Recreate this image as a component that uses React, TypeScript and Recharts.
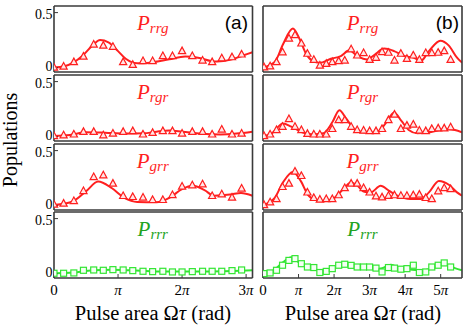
import { LineChart, Line, XAxis, YAxis } from 'recharts';

const SERIF = '"Liberation Serif", serif';
const RED = '#ff1f1f';
const GREEN = '#33e633';
const GREEN_TEXT = '#22a322';
const FRAME = '#3a3a3a';

// positions of the measured points, in units of pi
const xA = [0, 0.15, 0.31, 0.46, 0.62, 0.77, 0.92, 1.08, 1.23, 1.39, 1.54, 1.7, 1.85, 2.0, 2.16, 2.32, 2.47, 2.62, 2.78, 2.93];
const xB = [0.03, 0.2, 0.38, 0.55, 0.73, 0.9, 1.08, 1.25, 1.43, 1.6, 1.78, 1.95, 2.13, 2.3, 2.48, 2.65, 2.83, 3.0, 3.18, 3.35, 3.53, 3.7, 3.88, 4.05, 4.23, 4.4, 4.58, 4.75, 4.93, 5.1, 5.28];

// measured populations, column (a)
const rrgA = [0.0, 0.01, 0.05, 0.1, 0.21, 0.2, 0.19, 0.05, 0.025, 0.06, 0.06, 0.105, 0.105, 0.15, 0.105, 0.065, 0.05, 0.085, 0.095, 0.12];
const rgrA = [0.006, 0.012, 0.02, 0.043, 0.043, 0.012, 0.028, 0.043, 0.05, 0.02, 0.034, 0.05, 0.05, 0.028, 0.043, 0.043, 0.02, 0.064, 0.02, 0.028];
const grrA = [0.01, 0.018, 0.042, 0.133, 0.26, 0.276, 0.2, 0.088, 0.079, 0.073, 0.052, 0.052, 0.097, 0.173, 0.185, 0.194, 0.088, 0.103, 0.073, 0.155];
const rrrA = [0.003, 0.003, 0.006, 0.03, 0.033, 0.03, 0.036, 0.033, 0.027, 0.021, 0.018, 0.021, 0.015, 0.015, 0.018, 0.021, 0.021, 0.021, 0.027, 0.033];

// measured populations, column (b)
const rrgB = [0.003, 0.012, 0.05, 0.14, 0.265, 0.296, 0.22, 0.127, 0.071, 0.019, 0.034, 0.05, 0.059, 0.065, 0.167, 0.111, 0.133, 0.071, 0.09, 0.142, 0.136, 0.065, 0.127, 0.08, 0.111, 0.071, 0.133, 0.133, 0.136, 0.15, 0.071];
const rgrB = [0.005, 0.02, 0.06, 0.09, 0.16, 0.09, 0.06, 0.025, 0.02, 0.02, 0.02, 0.07, 0.15, 0.15, 0.09, 0.06, 0.055, 0.05, 0.05, 0.07, 0.15, 0.2, 0.07, 0.1, 0.11, 0.055, 0.05, 0.07, 0.075, 0.075, 0.085];
const grrB = [0.005, 0.03, 0.06, 0.17, 0.2, 0.31, 0.27, 0.12, 0.07, 0.055, 0.06, 0.06, 0.095, 0.16, 0.2, 0.2, 0.16, 0.12, 0.085, 0.075, 0.09, 0.095, 0.09, 0.09, 0.095, 0.1, 0.07, 0.06, 0.13, 0.16, 0.15];
const rrrB = [0.0, 0.006, 0.03, 0.076, 0.12, 0.136, 0.09, 0.06, 0.055, 0.01, 0.02, 0.045, 0.076, 0.085, 0.075, 0.06, 0.06, 0.06, 0.05, 0.015, 0.055, 0.05, 0.04, 0.045, 0.076, 0.01, 0.015, 0.06, 0.076, 0.097, 0.06];

// fitted curves [x/pi, P]
const rrgFitA: [number, number][] = [[0, 0], [0.15, 0.01], [0.3, 0.045], [0.45, 0.11], [0.6, 0.2], [0.72, 0.25], [0.85, 0.23], [1.0, 0.15], [1.12, 0.08], [1.3, 0.04], [1.5, 0.045], [1.8, 0.075], [2.05, 0.1], [2.25, 0.09], [2.45, 0.06], [2.55, 0.055], [2.75, 0.07], [2.95, 0.11], [3.1, 0.14]];
const rgrFitA: [number, number][] = [[0, 0.005], [0.25, 0.015], [0.5, 0.04], [0.8, 0.035], [1.1, 0.028], [1.4, 0.03], [1.6, 0.045], [1.8, 0.055], [2.0, 0.045], [2.3, 0.025], [2.6, 0.02], [2.85, 0.028], [3.1, 0.045]];
const grrFitA: [number, number][] = [[0, 0.005], [0.3, 0.04], [0.5, 0.13], [0.69, 0.218], [0.9, 0.16], [1.1, 0.07], [1.3, 0.033], [1.6, 0.03], [1.8, 0.07], [2.0, 0.15], [2.17, 0.18], [2.35, 0.14], [2.5, 0.09], [2.75, 0.1], [2.92, 0.115], [3.1, 0.09]];
const rrrFitA: [number, number][] = [[0, 0.003], [0.3, 0.01], [0.6, 0.03], [0.9, 0.035], [1.2, 0.03], [1.6, 0.02], [2.0, 0.018], [2.4, 0.02], [2.8, 0.024], [3.1, 0.03]];

const rrgFitB: [number, number][] = [[0, 0], [0.33, 0.05], [0.56, 0.21], [0.84, 0.355], [1.03, 0.26], [1.21, 0.127], [1.4, 0.06], [1.59, 0.043], [1.91, 0.08], [2.19, 0.105], [2.43, 0.157], [2.66, 0.105], [2.94, 0.074], [3.13, 0.114], [3.41, 0.173], [3.69, 0.15], [3.97, 0.105], [4.25, 0.09], [4.44, 0.06], [4.67, 0.15], [4.99, 0.244], [5.23, 0.2], [5.46, 0.09], [5.6, 0.045]];
const rgrFitB: [number, number][] = [[0, 0.003], [0.25, 0.03], [0.56, 0.12], [0.8, 0.09], [1.1, 0.04], [1.4, 0.02], [1.7, 0.03], [1.95, 0.13], [2.15, 0.24], [2.35, 0.16], [2.6, 0.06], [2.9, 0.035], [3.2, 0.04], [3.45, 0.12], [3.69, 0.22], [3.9, 0.14], [4.1, 0.06], [4.34, 0.03], [4.7, 0.04], [5.0, 0.06], [5.2, 0.068], [5.4, 0.06], [5.6, 0.04]];
const grrFitB: [number, number][] = [[0, 0.005], [0.33, 0.07], [0.56, 0.21], [0.84, 0.306], [1.07, 0.22], [1.26, 0.1], [1.49, 0.05], [1.73, 0.04], [2.01, 0.07], [2.29, 0.16], [2.47, 0.21], [2.66, 0.18], [2.85, 0.125], [3.03, 0.12], [3.31, 0.18], [3.55, 0.133], [3.78, 0.09], [4.15, 0.06], [4.44, 0.06], [4.67, 0.12], [4.95, 0.224], [5.23, 0.19], [5.46, 0.12], [5.6, 0.09]];
const rrrFitB: [number, number][] = [[0, 0.0], [0.3, 0.03], [0.55, 0.1], [0.8, 0.148], [1.05, 0.09], [1.3, 0.05], [1.6, 0.03], [1.9, 0.04], [2.3, 0.085], [2.7, 0.06], [3.1, 0.04], [3.35, 0.05], [3.6, 0.08], [3.85, 0.05], [4.2, 0.035], [4.5, 0.03], [4.8, 0.05], [5.1, 0.085], [5.4, 0.05], [5.6, 0.03]];

const xTicksA = [0, 1, 2, 3];
const xTicksB = [0, 1, 2, 3, 4, 5];
const yTicks = [0, 0.5];

// outer space round each plot box (axes take 1px of it)
const ML = 34, MR = 4, MT = 4, MB = 26, H = 66;

const Triangle = (p: any) => {
  const { cx, cy, index } = p;
  if (cx == null || cy == null) return <g key={index} />;
  return (
    <polygon
      key={index}
      points={`${cx},${cy - 4} ${cx - 3.6},${cy + 2.6} ${cx + 3.6},${cy + 2.6}`}
      fill="#ffe6e6"
      stroke={RED}
      strokeWidth={1.2}
    />
  );
};

const Square = (p: any) => {
  const { cx, cy, index } = p;
  if (cx == null || cy == null) return <g key={index} />;
  return <rect key={index} x={cx - 3} y={cy - 3} width={6} height={6} fill="#f4fff4" stroke={GREEN} strokeWidth={1.2} />;
};

const XTick = (p: any) => {
  const { x, y, payload } = p;
  const n = payload.value;
  return (
    <text x={x} y={y} dy={17} textAnchor="middle" fontFamily={SERIF} fontSize={15} fill="#000">
      {n === 0 ? '0' : (
        <>
          {n > 1 ? String(n) : ''}
          <tspan fontStyle="italic">π</tspan>
        </>
      )}
    </text>
  );
};

// "0" sits a little high and "0.5" a little low so stacked panels do not collide
const YTick = (p: any) => {
  const { x, y, payload } = p;
  const zero = payload.value === 0;
  return (
    <text x={x} y={y} dy={zero ? 3 : 6} textAnchor="end" fontFamily={SERIF} fontSize={14} fill="#000">
      {zero ? '0' : '0.5'}
    </text>
  );
};

interface PanelProps {
  left: number;
  top: number;
  width: number;
  xMax: number;
  xTicks: number[];
  xs: number[];
  vals: number[];
  fit: [number, number][];
  green?: boolean;
  showX?: boolean;
  showY?: boolean;
}

function Panel({ left, top, width, xMax, xTicks, xs, vals, fit, green, showX, showY }: PanelProps) {
  const points = xs.map((x, i) => ({ x, y: vals[i] }));
  const fitData = fit.map(([x, y]) => ({ x, y }));
  const color = green ? GREEN : RED;
  const axisLine = { stroke: FRAME, strokeWidth: 1.6 };
  const tickLine = { stroke: FRAME, strokeWidth: 1 };

  return (
    <div style={{ position: 'absolute', left: left - ML, top: top - MT }}>
      <LineChart
        width={width + ML + MR}
        height={H + MT + MB}
        margin={{ top: MT - 1, right: MR - 1, bottom: MB - 1, left: ML - 1 }}
      >
        <XAxis
          xAxisId="b"
          type="number"
          dataKey="x"
          orientation="bottom"
          domain={[0, xMax]}
          ticks={xTicks}
          interval={0}
          allowDataOverflow
          height={1}
          tickSize={-4}
          tickMargin={4}
          axisLine={axisLine}
          tickLine={tickLine}
          tick={showX ? <XTick /> : false}
        />
        <XAxis
          xAxisId="t"
          type="number"
          dataKey="x"
          orientation="top"
          domain={[0, xMax]}
          ticks={xTicks}
          interval={0}
          allowDataOverflow
          height={1}
          tickSize={-4}
          axisLine={axisLine}
          tickLine={tickLine}
          tick={false}
        />
        <YAxis
          yAxisId="l"
          type="number"
          domain={[-0.04, 0.56]}
          ticks={yTicks}
          interval={0}
          allowDataOverflow
          width={1}
          tickSize={-4}
          tickMargin={5.5}
          axisLine={axisLine}
          tickLine={tickLine}
          tick={showY ? <YTick /> : false}
        />
        <YAxis
          yAxisId="r"
          orientation="right"
          type="number"
          domain={[-0.04, 0.56]}
          ticks={yTicks}
          interval={0}
          allowDataOverflow
          width={1}
          tickSize={-4}
          axisLine={axisLine}
          tickLine={tickLine}
          tick={false}
        />
        <Line
          xAxisId="b"
          yAxisId="l"
          data={fitData}
          dataKey="y"
          type="monotone"
          stroke={color}
          strokeWidth={2}
          dot={false}
          isAnimationActive={false}
        />
        <Line
          xAxisId="b"
          yAxisId="l"
          data={points}
          dataKey="y"
          stroke="none"
          dot={green ? Square : Triangle}
          isAnimationActive={false}
        />
      </LineChart>
    </div>
  );
}

const tops = [6, 75, 144, 212];
const LEFT_A = 53.5, W_A = 198.5;
const LEFT_B = 263, W_B = 199;
const names = ['rrg', 'rgr', 'grr', 'rrr'];

export default function App() {
  const colA = [
    { vals: rrgA, fit: rrgFitA },
    { vals: rgrA, fit: rgrFitA },
    { vals: grrA, fit: grrFitA },
    { vals: rrrA, fit: rrrFitA },
  ];
  const colB = [
    { vals: rrgB, fit: rrgFitB },
    { vals: rgrB, fit: rgrFitB },
    { vals: grrB, fit: grrFitB },
    { vals: rrrB, fit: rrrFitB },
  ];

  return (
    <div style={{ position: 'absolute', left: 0, top: 0, width: 463, height: 329, background: '#fff' }}>
      {colA.map((s, i) => (
        <Panel
          key={'a' + i}
          left={LEFT_A}
          top={tops[i]}
          width={W_A}
          xMax={3.1}
          xTicks={xTicksA}
          xs={xA}
          vals={s.vals}
          fit={s.fit}
          green={i === 3}
          showX={i === 3}
          showY
        />
      ))}
      {colB.map((s, i) => (
        <Panel
          key={'b' + i}
          left={LEFT_B}
          top={tops[i]}
          width={W_B}
          xMax={5.6}
          xTicks={xTicksB}
          xs={xB}
          vals={s.vals}
          fit={s.fit}
          green={i === 3}
          showX={i === 3}
        />
      ))}
      <svg width={463} height={329} style={{ position: 'absolute', left: 0, top: 0, pointerEvents: 'none' }}>
        {tops.map((t, i) =>
          [LEFT_A + W_A / 2, LEFT_B + W_B / 2].map((cx, j) => (
            <text
              key={`${i}-${j}`}
              x={cx}
              y={t + 24}
              textAnchor="middle"
              fontFamily={SERIF}
              fontStyle="italic"
              fill={i === 3 ? GREEN_TEXT : RED}
            >
              <tspan fontSize={21}>P</tspan>
              <tspan fontSize={15} dy={3}>{names[i]}</tspan>
            </text>
          ))
        )}
        <text x={248} y={29} textAnchor="end" fontFamily='"Liberation Sans", sans-serif' fontSize={19} fill="#000">(a)</text>
        <text x={459} y={29} textAnchor="end" fontFamily='"Liberation Sans", sans-serif' fontSize={19} fill="#000">(b)</text>
        <text
          x={17}
          y={140}
          transform="rotate(-90 17 140)"
          textAnchor="middle"
          fontFamily={SERIF}
          fontSize={20}
          fill="#000"
        >
          Populations
        </text>
        <text x={153} y={320} textAnchor="middle" fontFamily={SERIF} fontSize={20.5} fill="#000">
          Pulse area Ω<tspan fontStyle="italic">τ</tspan> (rad)
        </text>
        <text x={363} y={320} textAnchor="middle" fontFamily={SERIF} fontSize={20.5} fill="#000">
          Pulse area Ω<tspan fontStyle="italic">τ</tspan> (rad)
        </text>
      </svg>
    </div>
  );
}
